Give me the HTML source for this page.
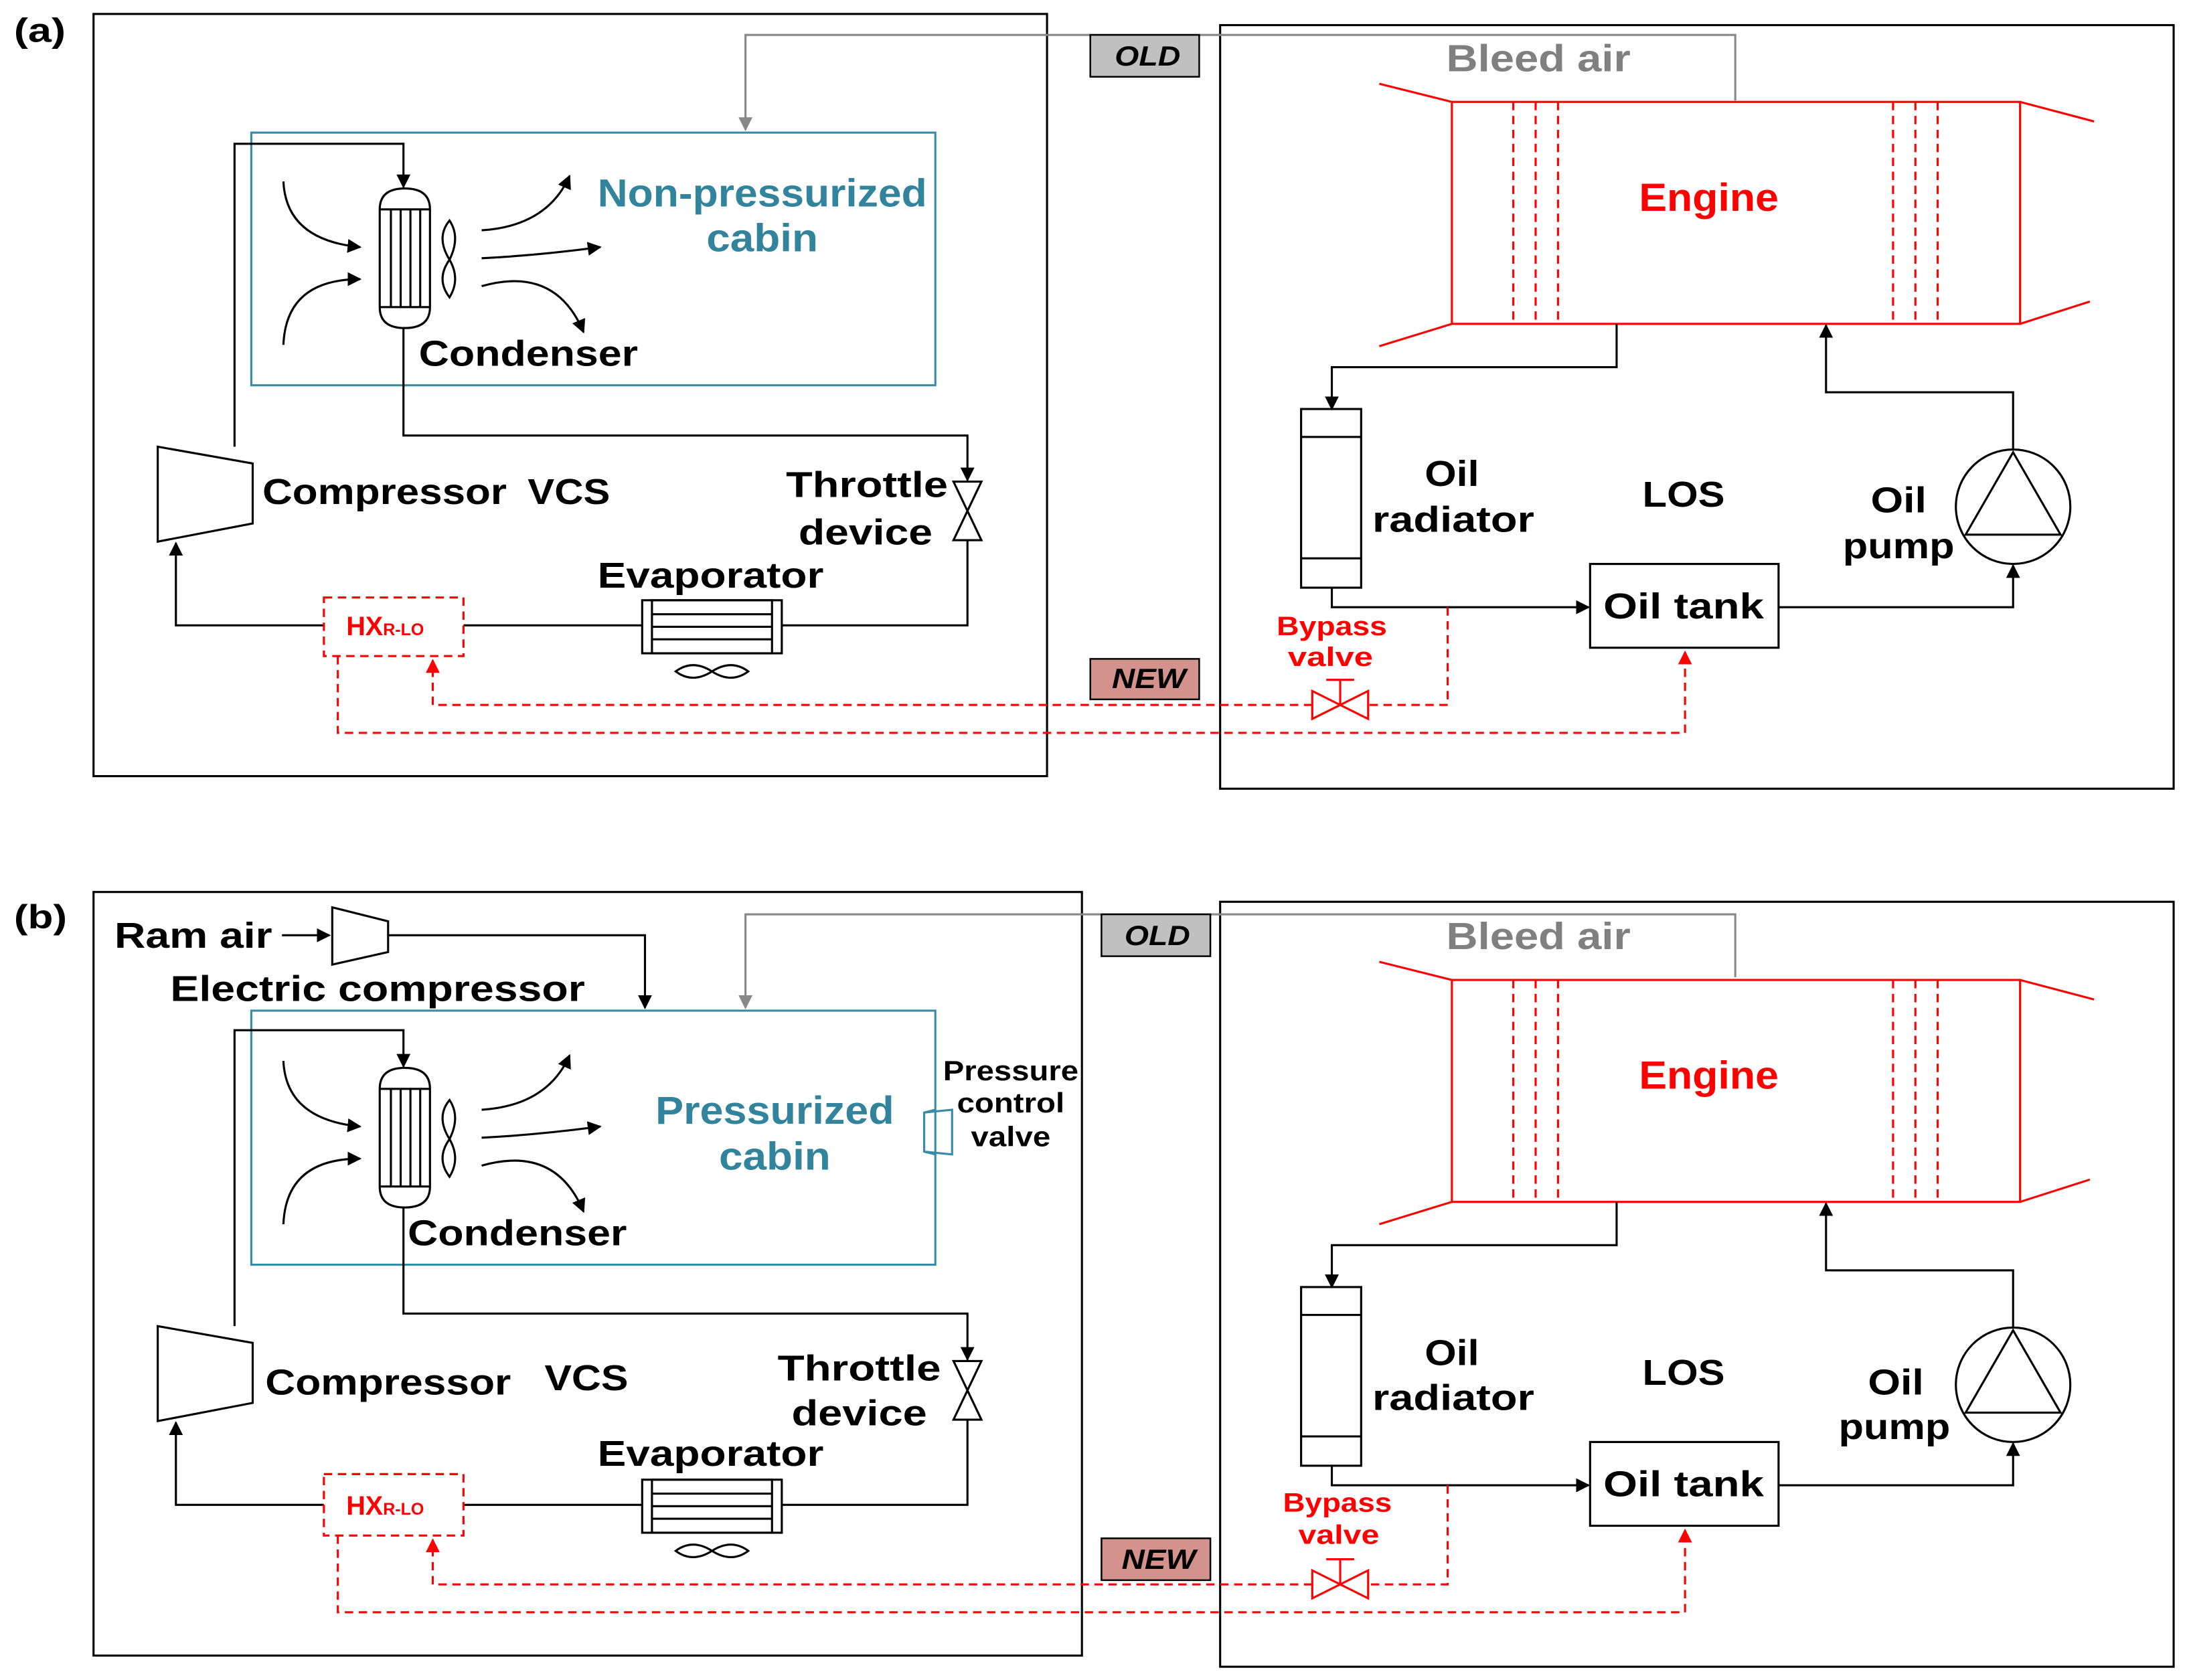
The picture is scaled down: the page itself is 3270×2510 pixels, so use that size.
<!DOCTYPE html>
<html><head><meta charset="utf-8"><style>
html,body{margin:0;padding:0;background:#fff;}
svg{display:block;}
text{font-family:"Liberation Sans",Arial,sans-serif;font-weight:bold;}
</style></head><body>
<svg width="3270" height="2510" viewBox="0 0 1568 1203.5" preserveAspectRatio="none" xmlns="http://www.w3.org/2000/svg">
<defs>
<marker id="ab" markerWidth="10" markerHeight="10" refX="9" refY="5" orient="auto" markerUnits="userSpaceOnUse"><path d="M0,0 L10,5 L0,10 z" fill="#000"/></marker>
<marker id="ag" markerWidth="10" markerHeight="10" refX="9" refY="5" orient="auto" markerUnits="userSpaceOnUse"><path d="M0,0 L10,5 L0,10 z" fill="#888"/></marker>
<marker id="ar" markerWidth="10" markerHeight="10" refX="9" refY="5" orient="auto" markerUnits="userSpaceOnUse"><path d="M0,0 L10,5 L0,10 z" fill="#f00"/></marker>
<g id="cond">
<path d="M272,150 Q272,135 290,135 Q308,135 308,150 L308,220 Q308,235 290,235 Q272,235 272,220 Z" fill="#fff" stroke="#000" stroke-width="1.5"/>
<line x1="272" y1="150" x2="308" y2="150" stroke="#000" stroke-width="1.5"/>
<line x1="272" y1="220" x2="308" y2="220" stroke="#000" stroke-width="1.5"/>
<line x1="280" y1="150" x2="280" y2="220" stroke="#000" stroke-width="1.5"/>
<line x1="287" y1="150" x2="287" y2="220" stroke="#000" stroke-width="1.5"/>
<line x1="294" y1="150" x2="294" y2="220" stroke="#000" stroke-width="1.5"/>
<line x1="301" y1="150" x2="301" y2="220" stroke="#000" stroke-width="1.5"/>
<path d="M322,186 Q312,170 322,158 Q330,170 322,186 Q312,200 322,213 Q330,200 322,186 Z" fill="#fff" stroke="#000" stroke-width="1.5"/>
<g fill="none" stroke="#000" stroke-width="1.5">
<path d="M203,130 Q205,172 258,177" marker-end="url(#ab)"/>
<path d="M203,247 Q205,200 258,200" marker-end="url(#ab)"/>
<path d="M345,165 Q392,162 408,126" marker-end="url(#ab)"/>
<path d="M345,185 Q385,183 430,177" marker-end="url(#ab)"/>
<path d="M345,205 Q398,190 418,238" marker-end="url(#ab)"/>
</g>
</g>
<g id="evap">
<rect x="460" y="430" width="100" height="38" fill="#fff" stroke="#000" stroke-width="1.5"/>
<rect x="467" y="430" width="86" height="38" fill="none" stroke="#000" stroke-width="1.5"/>
<line x1="467" y1="440" x2="553" y2="440" stroke="#000" stroke-width="1.5"/>
<line x1="467" y1="449" x2="553" y2="449" stroke="#000" stroke-width="1.5"/>
<line x1="467" y1="458" x2="553" y2="458" stroke="#000" stroke-width="1.5"/>
<path d="M510,481 Q496,472 484,481 Q496,490 510,481 Q524,472 536,481 Q524,490 510,481 Z" fill="#fff" stroke="#000" stroke-width="1.5"/>
</g>
<g id="thr">
<path d="M683,345 L703,345 L683,387 L703,387 Z" fill="#fff" stroke="#000" stroke-width="1.5"/>
</g>
<g id="eng">
<rect x="1040" y="73" width="407" height="159" fill="none" stroke="#f00" stroke-width="1.5"/>
<g stroke="#f00" stroke-width="1.5" fill="none">
<line x1="988" y1="60" x2="1040" y2="73"/><line x1="988" y1="248" x2="1040" y2="232"/>
<line x1="1447" y1="73" x2="1500" y2="87"/><line x1="1447" y1="232" x2="1497" y2="216"/>
<g stroke-dasharray="6,4">
<line x1="1084" y1="73" x2="1084" y2="232"/><line x1="1100" y1="73" x2="1100" y2="232"/><line x1="1116" y1="73" x2="1116" y2="232"/>
<line x1="1356" y1="73" x2="1356" y2="232"/><line x1="1372" y1="73" x2="1372" y2="232"/><line x1="1388" y1="73" x2="1388" y2="232"/>
</g></g>
<text x="1224" y="151" font-size="28" fill="#f00" text-anchor="middle" textLength="100" lengthAdjust="spacingAndGlyphs">Engine</text>
<rect x="932" y="293" width="43" height="128" fill="#fff" stroke="#000" stroke-width="1.5"/>
<line x1="932" y1="313" x2="975" y2="313" stroke="#000" stroke-width="1.5"/>
<line x1="932" y1="400" x2="975" y2="400" stroke="#000" stroke-width="1.5"/>
<rect x="1139" y="404" width="135" height="60" fill="#fff" stroke="#000" stroke-width="1.5"/>
<text x="1206" y="443" font-size="26" text-anchor="middle" textLength="115" lengthAdjust="spacingAndGlyphs">Oil tank</text>
<circle cx="1442" cy="363" r="41" fill="#fff" stroke="#000" stroke-width="1.5"/>
<path d="M1442,324 L1476,383 L1408,383 Z" fill="none" stroke="#000" stroke-width="1.5"/>
<g fill="none" stroke="#000" stroke-width="1.5">
<path d="M1158,232 L1158,263 L954,263 L954,293" marker-end="url(#ab)"/>
<path d="M954,421 L954,435 L1138,435" marker-end="url(#ab)"/>
<path d="M1274,435 L1442,435 L1442,405" marker-end="url(#ab)"/>
<path d="M1442,322 L1442,281 L1308,281 L1308,233" marker-end="url(#ab)"/>
</g>
<text x="1206" y="363" font-size="26" text-anchor="middle" textLength="59" lengthAdjust="spacingAndGlyphs">LOS</text>
</g>
</defs>

<!-- ========== (a) ========== -->
<text x="10" y="30" font-size="24" textLength="37" lengthAdjust="spacingAndGlyphs">(a)</text>
<rect x="67" y="10" width="683" height="546" fill="none" stroke="#000" stroke-width="1.5"/>
<rect x="874" y="18" width="683" height="547" fill="none" stroke="#000" stroke-width="1.5"/>
<rect x="180" y="95" width="490" height="181" fill="none" stroke="#3a8ca6" stroke-width="1.5"/>
<text x="546" y="148" font-size="28" fill="#31849b" text-anchor="middle" textLength="236" lengthAdjust="spacingAndGlyphs">Non-pressurized</text>
<text x="546" y="180" font-size="28" fill="#31849b" text-anchor="middle" textLength="80" lengthAdjust="spacingAndGlyphs">cabin</text>
<path d="M1243,72 L1243,25 L534,25 L534,93" fill="none" stroke="#888" stroke-width="1.5" marker-end="url(#ag)"/>
<rect x="781" y="25" width="78" height="30" fill="#c0c0c0" stroke="#000" stroke-width="1.2"/>
<text x="822" y="47" font-size="20" font-style="italic" text-anchor="middle" textLength="47" lengthAdjust="spacingAndGlyphs">OLD</text>
<text x="1036" y="51" font-size="27" fill="#808080" textLength="132" lengthAdjust="spacingAndGlyphs">Bleed air</text>
<g fill="none" stroke="#000" stroke-width="1.5">
<path d="M168,320 L168,103 L289,103 L289,134" marker-end="url(#ab)"/>
<path d="M289,235 L289,312 L693,312 L693,344" marker-end="url(#ab)"/>
<path d="M693,387 L693,448 L560,448"/>
<path d="M460,448 L332,448"/>
<path d="M232,448 L126,448 L126,389" marker-end="url(#ab)"/>
</g>
<use href="#cond"/>
<use href="#evap"/>
<use href="#thr"/>
<path d="M113,320 L181,332 L181,375 L113,388 Z" fill="#fff" stroke="#000" stroke-width="1.5"/>
<text x="300" y="262" font-size="26" textLength="157" lengthAdjust="spacingAndGlyphs">Condenser</text>
<text x="188" y="361" font-size="26" textLength="175" lengthAdjust="spacingAndGlyphs">Compressor</text>
<text x="378" y="361" font-size="26" textLength="59" lengthAdjust="spacingAndGlyphs">VCS</text>
<text x="563" y="356" font-size="26" textLength="116" lengthAdjust="spacingAndGlyphs">Throttle</text>
<text x="572" y="390" font-size="26" textLength="96" lengthAdjust="spacingAndGlyphs">device</text>
<text x="428" y="421" font-size="26" textLength="162" lengthAdjust="spacingAndGlyphs">Evaporator</text>
<rect x="232" y="428" width="100" height="42" fill="#fff" stroke="#f00" stroke-width="1.5" stroke-dasharray="6,4"/>
<text x="248" y="455" font-size="19" fill="#f00">HX<tspan font-size="12">R-LO</tspan></text>
<use href="#eng"/>
<text x="1040" y="348" font-size="26" text-anchor="middle" textLength="39" lengthAdjust="spacingAndGlyphs">Oil</text>
<text x="1041" y="381" font-size="26" text-anchor="middle" textLength="116" lengthAdjust="spacingAndGlyphs">radiator</text>
<text x="1360" y="367" font-size="26" text-anchor="middle" textLength="40" lengthAdjust="spacingAndGlyphs">Oil</text>
<text x="1360" y="400" font-size="26" text-anchor="middle" textLength="80" lengthAdjust="spacingAndGlyphs">pump</text>
<text x="954" y="455" font-size="19" fill="#f00" text-anchor="middle" textLength="79" lengthAdjust="spacingAndGlyphs">Bypass</text>
<text x="953" y="477" font-size="19" fill="#f00" text-anchor="middle" textLength="61" lengthAdjust="spacingAndGlyphs">valve</text>
<g fill="none" stroke="#f00" stroke-width="1.5" stroke-dasharray="6,4">
<path d="M1037,435 L1037,505 L980,505"/>
<path d="M940,505 L310,505 L310,473" marker-end="url(#ar)"/>
<path d="M242,470 L242,525 L1207,525 L1207,467" marker-end="url(#ar)"/>
</g>
<path d="M940,495 L980,515 L980,495 L940,515 Z" fill="#fff" stroke="#f00" stroke-width="1.5"/>
<path d="M960,505 L960,487 M950,487 L970,487" stroke="#f00" stroke-width="1.5"/>
<rect x="781" y="472" width="78" height="29" fill="#d4928c" stroke="#000" stroke-width="1.2"/>
<text x="823" y="493" font-size="20" font-style="italic" text-anchor="middle" textLength="53" lengthAdjust="spacingAndGlyphs">NEW</text>

<!-- ========== (b) ========== -->
<text x="10" y="665" font-size="24" textLength="38" lengthAdjust="spacingAndGlyphs">(b)</text>
<rect x="67" y="639" width="708" height="547" fill="none" stroke="#000" stroke-width="1.5"/>
<rect x="874" y="646" width="683" height="548" fill="none" stroke="#000" stroke-width="1.5"/>
<rect x="180" y="724" width="490" height="182" fill="none" stroke="#3a8ca6" stroke-width="1.5"/>
<text x="555" y="805" font-size="28" fill="#31849b" text-anchor="middle" textLength="171" lengthAdjust="spacingAndGlyphs">Pressurized</text>
<text x="555" y="838" font-size="28" fill="#31849b" text-anchor="middle" textLength="80" lengthAdjust="spacingAndGlyphs">cabin</text>
<path d="M670,795 L662,797 L662,825 L670,827 M662,797 L682,795 L682,827 L662,825" fill="none" stroke="#3a8ca6" stroke-width="1.5"/>
<text x="724" y="774" font-size="20" text-anchor="middle" textLength="97" lengthAdjust="spacingAndGlyphs">Pressure</text>
<text x="724" y="797" font-size="20" text-anchor="middle" textLength="77" lengthAdjust="spacingAndGlyphs">control</text>
<text x="724" y="821" font-size="20" text-anchor="middle" textLength="57" lengthAdjust="spacingAndGlyphs">valve</text>
<text x="82" y="679" font-size="26" textLength="113" lengthAdjust="spacingAndGlyphs">Ram air</text>
<path d="M202,670 L236,670" stroke="#000" stroke-width="1.5" marker-end="url(#ab)"/>
<path d="M238,650 L278,660 L278,682 L238,691 Z" fill="#fff" stroke="#000" stroke-width="1.5"/>
<path d="M278,670 L462,670 L462,722" fill="none" stroke="#000" stroke-width="1.5" marker-end="url(#ab)"/>
<text x="122" y="717" font-size="26" textLength="297" lengthAdjust="spacingAndGlyphs">Electric compressor</text>
<path d="M1243,700 L1243,655 L534,655 L534,722" fill="none" stroke="#888" stroke-width="1.5" marker-end="url(#ag)"/>
<rect x="789" y="655" width="78" height="30" fill="#c0c0c0" stroke="#000" stroke-width="1.2"/>
<text x="829" y="677" font-size="20" font-style="italic" text-anchor="middle" textLength="47" lengthAdjust="spacingAndGlyphs">OLD</text>
<text x="1036" y="680" font-size="27" fill="#808080" textLength="132" lengthAdjust="spacingAndGlyphs">Bleed air</text>
<g transform="translate(0,630)">
<g fill="none" stroke="#000" stroke-width="1.5">
<path d="M168,320 L168,108 L289,108 L289,134" marker-end="url(#ab)"/>
<path d="M289,235 L289,311 L693,311 L693,344" marker-end="url(#ab)"/>
<path d="M693,387 L693,448 L560,448"/>
<path d="M460,448 L332,448"/>
<path d="M232,448 L126,448 L126,389" marker-end="url(#ab)"/>
</g>
<use href="#cond"/>
<use href="#evap"/>
<use href="#thr"/>
<path d="M113,320 L181,332 L181,375 L113,388 Z" fill="#fff" stroke="#000" stroke-width="1.5"/>
<rect x="232" y="426" width="100" height="44" fill="#fff" stroke="#f00" stroke-width="1.5" stroke-dasharray="6,4"/>
<text x="248" y="455" font-size="19" fill="#f00">HX<tspan font-size="12">R-LO</tspan></text>
</g>
<text x="292" y="892" font-size="26" textLength="157" lengthAdjust="spacingAndGlyphs">Condenser</text>
<text x="190" y="999" font-size="26" textLength="176" lengthAdjust="spacingAndGlyphs">Compressor</text>
<text x="390" y="996" font-size="26" textLength="60" lengthAdjust="spacingAndGlyphs">VCS</text>
<text x="557" y="989" font-size="26" textLength="117" lengthAdjust="spacingAndGlyphs">Throttle</text>
<text x="567" y="1021" font-size="26" textLength="97" lengthAdjust="spacingAndGlyphs">device</text>
<text x="428" y="1050" font-size="26" textLength="162" lengthAdjust="spacingAndGlyphs">Evaporator</text>
<g transform="translate(0,629)"><use href="#eng"/></g>
<text x="1040" y="978" font-size="26" text-anchor="middle" textLength="39" lengthAdjust="spacingAndGlyphs">Oil</text>
<text x="1041" y="1010" font-size="26" text-anchor="middle" textLength="116" lengthAdjust="spacingAndGlyphs">radiator</text>
<text x="1358" y="999" font-size="26" text-anchor="middle" textLength="40" lengthAdjust="spacingAndGlyphs">Oil</text>
<text x="1357" y="1031" font-size="26" text-anchor="middle" textLength="80" lengthAdjust="spacingAndGlyphs">pump</text>
<text x="958" y="1083" font-size="19" fill="#f00" text-anchor="middle" textLength="78" lengthAdjust="spacingAndGlyphs">Bypass</text>
<text x="959" y="1106" font-size="19" fill="#f00" text-anchor="middle" textLength="58" lengthAdjust="spacingAndGlyphs">valve</text>
<g fill="none" stroke="#f00" stroke-width="1.5" stroke-dasharray="6,4">
<path d="M1037,1064 L1037,1135 L980,1135"/>
<path d="M940,1135 L310,1135 L310,1103" marker-end="url(#ar)"/>
<path d="M242,1100 L242,1155 L1207,1155 L1207,1096" marker-end="url(#ar)"/>
</g>
<path d="M940,1125 L980,1145 L980,1125 L940,1145 Z" fill="#fff" stroke="#f00" stroke-width="1.5"/>
<path d="M960,1135 L960,1117 M950,1117 L970,1117" stroke="#f00" stroke-width="1.5"/>
<rect x="789" y="1102" width="78" height="30" fill="#d4928c" stroke="#000" stroke-width="1.2"/>
<text x="830" y="1124" font-size="20" font-style="italic" text-anchor="middle" textLength="53" lengthAdjust="spacingAndGlyphs">NEW</text>
</svg>
</body></html>
